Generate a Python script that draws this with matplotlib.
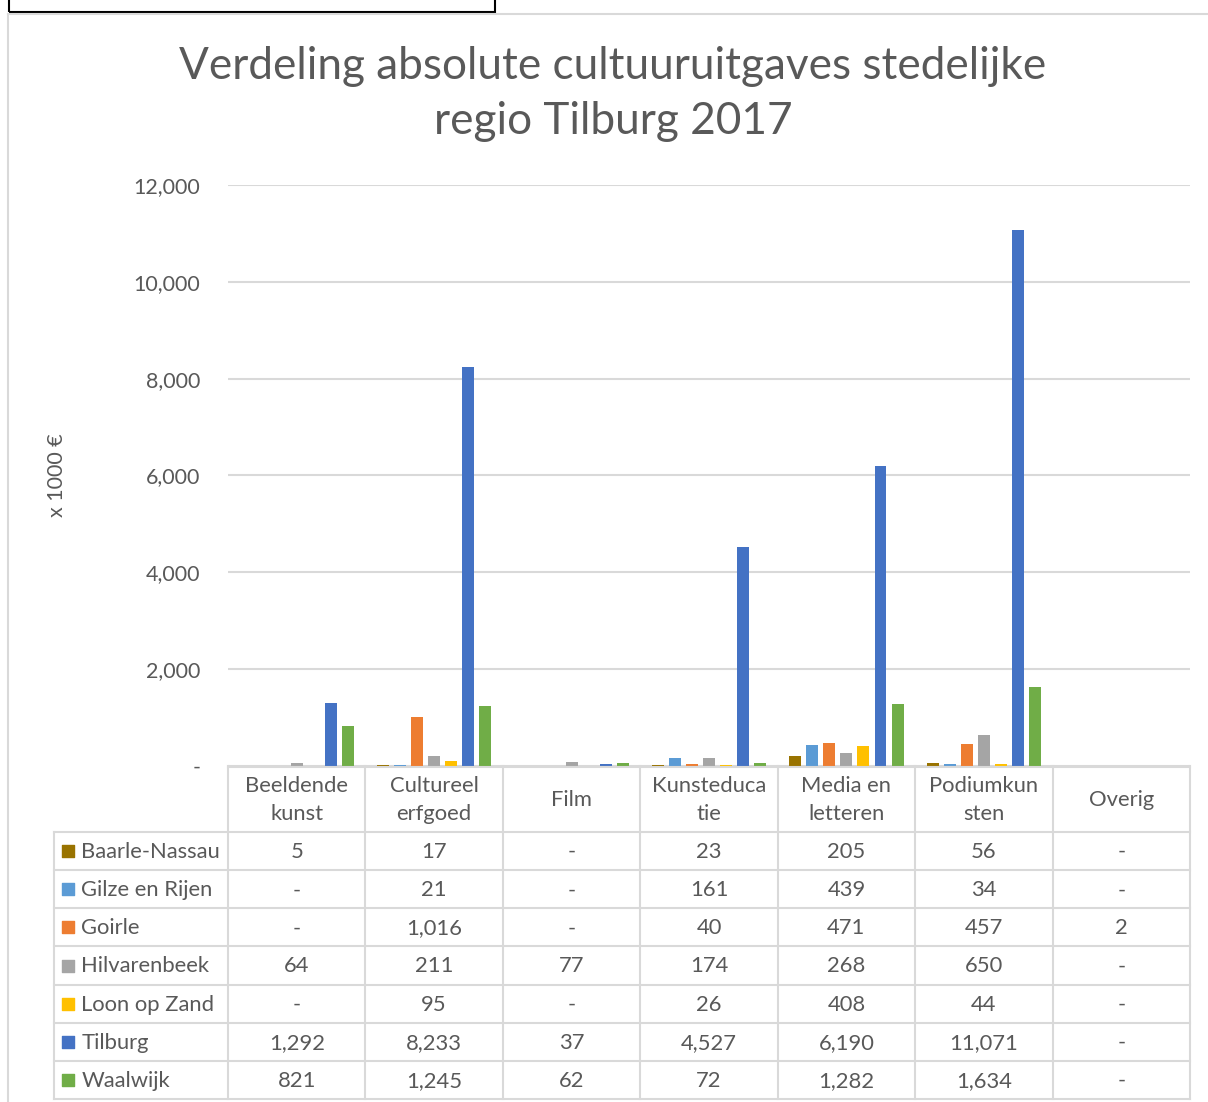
import numpy as np
import matplotlib.pyplot as plt
from matplotlib.patches import Rectangle
from matplotlib.lines import Line2D

# data
categorieen = ['Beeldende\nkunst', 'Cultureel\nerfgoed', 'Film', 'Kunsteduca\ntie',
               'Media en\nletteren', 'Podiumkun\nsten', 'Overig']
gemeenten = ['Baarle-Nassau', 'Gilze en Rijen', 'Goirle', 'Hilvarenbeek',
             'Loon op Zand', 'Tilburg', 'Waalwijk']
baarle = [5, 17, 0, 23, 205, 56, 0]
gilze = [0, 21, 0, 161, 439, 34, 0]
goirle = [0, 1016, 0, 40, 471, 457, 2]
hilvarenbeek = [64, 211, 77, 174, 268, 650, 0]
loon = [0, 95, 0, 26, 408, 44, 0]
tilburg = [1292, 8233, 37, 4527, 6190, 11071, 0]
waalwijk = [821, 1245, 62, 72, 1282, 1634, 0]
reeksen = [baarle, gilze, goirle, hilvarenbeek, loon, tilburg, waalwijk]
kleuren = ['#997300', '#5B9BD5', '#ED7D31', '#A5A5A5', '#FFC000', '#4472C4', '#70AD47']

W, H = 1208, 1102
tekstkleur = '#595959'
lijnkleur = '#D9D9D9'
plt.rcParams['font.family'] = ['Lato', 'DejaVu Sans']

fig = plt.figure(figsize=(W / 100, H / 100), dpi=100)

# rand van de grafiek en het zwarte kader linksboven
fig.add_artist(Line2D([8 / W, 8 / W], [0, 1 - 14 / H], color=lijnkleur, lw=1.5))
fig.add_artist(Line2D([8 / W, 1], [1 - 14 / H, 1 - 14 / H], color=lijnkleur, lw=1.5))
fig.add_artist(Rectangle((9 / W, 1 - 12 / H), 486 / W, 20 / H, fill=False,
                         edgecolor='black', lw=1.5))

# staafdiagram
ax = fig.add_axes([228 / W, (H - 766) / H, 962 / W, 581 / H])
x = np.arange(len(categorieen))
stap = 0.124
breedte = 0.087
for i, (serie, kleur) in enumerate(zip(reeksen, kleuren)):
    ax.bar(x + (i - 3) * stap, serie, width=breedte, color=kleur, zorder=3)

ax.set_xlim(-0.5, 6.5)
ax.set_ylim(0, 12000)
ax.set_yticks(range(0, 12001, 2000))
ax.set_yticklabels(['-'] + [f'{v:,}' for v in range(2000, 12001, 2000)])
ax.tick_params(axis='y', length=0, pad=20, labelsize=15.5, labelcolor=tekstkleur)
ax.set_xticks([])
ax.grid(axis='y', color=lijnkleur, lw=1.5, zorder=0)
for s in ax.spines.values():
    s.set_visible(False)
ax.set_ylabel('x 1000 €', fontsize=15.5, color=tekstkleur, labelpad=48)

fig.text(0.5075, 1 - 94 / H, 'Verdeling absolute cultuuruitgaves stedelijke\nregio Tilburg 2017',
         ha='center', va='center', fontsize=31.8, color=tekstkleur, linespacing=1.45)

# gegevenstabel onder de grafiek
ax_t = fig.add_axes([228 / W, (H - 1099) / H, 962 / W, 333 / H], sharex=ax)
ax_t.set_ylim(333, 0)
ax_t.axis('off')
kop = 66
rij = (333 - kop) / len(gemeenten)
links = -0.5 - (228 - 54) / 137.4

def fmt(v):
    return '-' if v == 0 else f'{v:,}'

# lijnen
ax_t.plot([-0.5, 6.5], [1, 1], color=lijnkleur, lw=1.5, clip_on=False)
for r in range(len(gemeenten) + 1):
    y = kop + r * rij
    ax_t.plot([links, 6.5], [y, y], color=lijnkleur, lw=1.5, clip_on=False)
for k in range(len(categorieen) + 1):
    ax_t.plot([k - 0.5, k - 0.5], [0, 333], color=lijnkleur, lw=1.5, clip_on=False)
ax_t.plot([links, links], [kop, 333], color=lijnkleur, lw=1.5, clip_on=False)

for k, cat in enumerate(categorieen):
    ax_t.text(k, kop / 2 + 1, cat, ha='center', va='center', fontsize=15.8,
              color=tekstkleur, linespacing=1.55)

for r, (naam, serie, kleur) in enumerate(zip(gemeenten, reeksen, kleuren)):
    yc = kop + (r + 0.5) * rij
    ax_t.scatter([links + 0.1], [yc], marker='s', s=70, color=kleur, clip_on=False)
    ax_t.text(links + 0.2, yc + 1, naam, ha='left', va='center', fontsize=15.8,
              color=tekstkleur, clip_on=False)
    for k, v in enumerate(serie):
        ax_t.text(k, yc + 1, fmt(v), ha='center', va='center', fontsize=15.8,
                  color=tekstkleur)

fig.savefig('out.png', dpi=100)
